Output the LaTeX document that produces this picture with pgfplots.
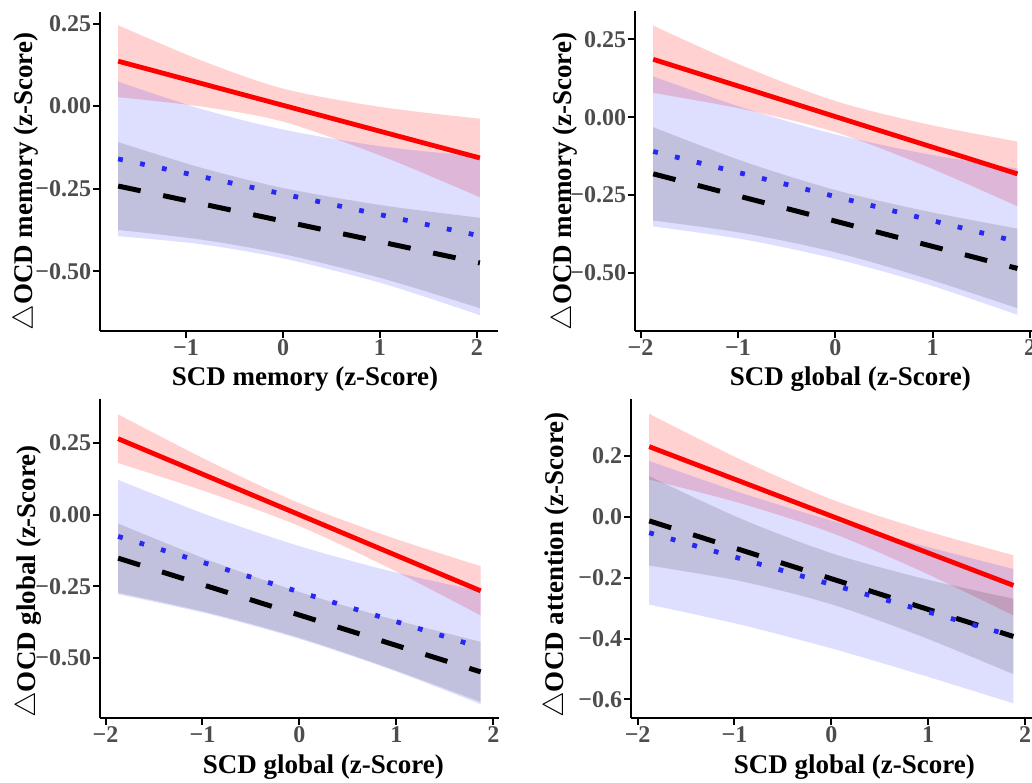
\documentclass[border=0pt]{standalone}
\usepackage{fontspec}
\setmainfont{Liberation Serif}
\usepackage{pgfplots}
\pgfplotsset{compat=1.18}
\usepgfplotslibrary{fillbetween}

\definecolor{cred}{RGB}{255,0,0}
\definecolor{cblue}{RGB}{40,40,245}
\definecolor{tickgray}{RGB}{77,77,77}

\pgfplotsset{
  panel/.style={
    scale only axis, anchor=south west,
    axis x line*=bottom, axis y line*=left,
    axis line style={line width=1pt,-},
    major tick style={line width=1pt, black},
    tick align=outside, major tick length=3.3pt,
    ticklabel style={font=\fontsize{12}{14}\selectfont\bfseries, text=tickgray},
    xticklabel style={inner sep=1pt},
    yticklabel style={inner sep=1pt},
    label style={font=\fontsize{13.5}{16}\selectfont\bfseries},
  },
  xlab/.style={xlabel style={at={([xshift=#1,yshift=-27.5pt]axis description cs:0.5,0)}, anchor=base}},
  ylab/.style={ylabel style={at={([xshift=#1]axis description cs:0,0)}, anchor=base west, inner sep=0pt}},
  edge/.style={draw=none, smooth, name path=#1},
  redband/.style={draw=none, fill=cred, fill opacity=0.18},
  blueband/.style={draw=none, fill=blue, fill opacity=0.13},
  darkband/.style={draw=none, fill=black, fill opacity=0.13},
  redline/.style={color=cred, line width=2.4pt, solid},
  blueline/.style={color=cblue, line width=2.4pt, dash pattern=on 2.4pt off 8.8pt},
  blackline/.style={color=black, line width=2.5pt, dash pattern=on 11.5pt off 11.5pt},
}

\begin{document}
\begin{tikzpicture}

% top left
\begin{axis}[panel, at={(50pt,225.5pt)}, width=199pt, height=159.5pt,
  xmin=-1.887, xmax=2.217, ymin=-0.681, ymax=0.285,
  xtick={-1,0,1,2}, xticklabels={−1,0,1,2},
  ytick={-0.5,-0.25,0,0.25}, yticklabels={−0.50,−0.25,0.00,0.25},
  xlab=3pt, ylab=-33.5pt,
  xlabel={SCD memory (z-Score)}, ylabel={$\triangle$OCD memory (z-Score)}]
\addplot[edge=ru] coordinates {(-1.70,0.245)(-0.85,0.139)(0,0.053)(1.015,-0.003)(2.03,-0.038)};
\addplot[edge=rl] coordinates {(-1.70,0.027)(-0.85,-0.001)(0,-0.047)(1.015,-0.151)(2.03,-0.276)};
\addplot[edge=bu] coordinates {(-1.70,0.074)(-0.85,-0.008)(0,-0.071)(1.015,-0.122)(2.03,-0.153)};
\addplot[edge=bl] coordinates {(-1.70,-0.394)(-0.85,-0.418)(0,-0.461)(1.015,-0.536)(2.03,-0.633)};
\addplot[edge=ku] coordinates {(-1.70,-0.109)(-0.85,-0.186)(0,-0.248)(1.015,-0.300)(2.03,-0.338)};
\addplot[edge=kl] coordinates {(-1.70,-0.375)(-0.85,-0.404)(0,-0.448)(1.015,-0.521)(2.03,-0.612)};
\addplot[redband] fill between[of=ru and rl];
\addplot[blueband] fill between[of=bu and bl];
\addplot[darkband] fill between[of=ku and kl];
\addplot[blackline] coordinates {(-1.70,-0.242)(2.03,-0.475)};
\addplot[blueline] coordinates {(-1.70,-0.160)(2.03,-0.393)};
\addplot[redline] coordinates {(-1.70,0.136)(2.03,-0.157)};
\end{axis}

% top right
\begin{axis}[panel, at={(317.5pt,225.5pt)}, width=200.3pt, height=159.8pt,
  xmin=-2.057, xmax=2.057, ymin=-0.687, ymax=0.34,
  xtick={-2,-1,0,1,2}, xticklabels={−2,−1,0,1,2},
  ytick={-0.5,-0.25,0,0.25}, yticklabels={−0.50,−0.25,0.00,0.25},
  xlab=7.5pt, ylab=-32pt,
  xlabel={SCD global (z-Score)}, ylabel={$\triangle$OCD memory (z-Score)}]
\addplot[edge=ru] coordinates {(-1.87,0.294)(-0.935,0.163)(0,0.052)(0.935,-0.022)(1.87,-0.078)};
\addplot[edge=rl] coordinates {(-1.87,0.078)(-0.935,0.025)(0,-0.048)(0.935,-0.158)(1.87,-0.286)};
\addplot[edge=bu] coordinates {(-1.87,0.131)(-0.935,0.029)(0,-0.055)(0.935,-0.118)(1.87,-0.165)};
\addplot[edge=bl] coordinates {(-1.87,-0.351)(-0.935,-0.393)(0,-0.455)(0.935,-0.536)(1.87,-0.635)};
\addplot[edge=ku] coordinates {(-1.87,-0.032)(-0.935,-0.143)(0,-0.234)(0.935,-0.302)(1.87,-0.358)};
\addplot[edge=kl] coordinates {(-1.87,-0.332)(-0.935,-0.373)(0,-0.434)(0.935,-0.518)(1.87,-0.614)};
\addplot[redband] fill between[of=ru and rl];
\addplot[blueband] fill between[of=bu and bl];
\addplot[darkband] fill between[of=ku and kl];
\addplot[blackline] coordinates {(-1.87,-0.182)(1.87,-0.486)};
\addplot[blueline] coordinates {(-1.87,-0.110)(1.87,-0.400)};
\addplot[redline] coordinates {(-1.87,0.186)(1.87,-0.182)};
\end{axis}

% bottom left
\begin{axis}[panel, at={(50pt,32pt)}, width=199.4pt, height=159.4pt,
  xmin=-2.057, xmax=2.057, ymin=-0.71, ymax=0.403,
  xtick={-2,-1,0,1,2}, xticklabels={−2,−1,0,1,2},
  ytick={-0.5,-0.25,0,0.25}, yticklabels={−0.50,−0.25,0.00,0.25},
  xlab=12pt, ylab=-32.5pt,
  xlabel={SCD global (z-Score)}, ylabel={$\triangle$OCD global (z-Score)}]
\addplot[edge=ru] coordinates {(-1.87,0.350)(-0.935,0.187)(0,0.040)(0.935,-0.078)(1.87,-0.180)};
\addplot[edge=rl] coordinates {(-1.87,0.180)(-0.935,0.077)(0,-0.040)(0.935,-0.188)(1.87,-0.352)};
\addplot[edge=bu] coordinates {(-1.87,0.121)(-0.935,-0.003)(0,-0.110)(0.935,-0.197)(1.87,-0.268)};
\addplot[edge=bl] coordinates {(-1.87,-0.278)(-0.935,-0.347)(0,-0.434)(0.935,-0.540)(1.87,-0.662)};
\addplot[edge=ku] coordinates {(-1.87,-0.031)(-0.935,-0.159)(0,-0.270)(0.935,-0.363)(1.87,-0.444)};
\addplot[edge=kl] coordinates {(-1.87,-0.273)(-0.935,-0.343)(0,-0.430)(0.935,-0.537)(1.87,-0.654)};
\addplot[redband] fill between[of=ru and rl];
\addplot[blueband] fill between[of=bu and bl];
\addplot[darkband] fill between[of=ku and kl];
\addplot[blackline] coordinates {(-1.87,-0.152)(1.87,-0.549)};
\addplot[blueline] coordinates {(-1.87,-0.076)(1.87,-0.464)};
\addplot[redline] coordinates {(-1.87,0.265)(1.87,-0.266)};
\end{axis}

% bottom right
\begin{axis}[panel, at={(315.5pt,32pt)}, width=200.3pt, height=159.4pt,
  xmin=-2.068, xmax=2.068, ymin=-0.661, ymax=0.387,
  xtick={-2,-1,0,1,2}, xticklabels={−2,−1,0,1,2},
  ytick={-0.6,-0.4,-0.2,0,0.2}, yticklabels={−0.6,−0.4,−0.2,0.0,0.2},
  xlab=11.5pt, ylab=-34pt,
  xlabel={SCD global (z-Score)}, ylabel={$\triangle$OCD attention (z-Score)}]
\addplot[edge=ru] coordinates {(-1.88,0.339)(-0.94,0.189)(0,0.058)(0.94,-0.042)(1.88,-0.126)};
\addplot[edge=rl] coordinates {(-1.88,0.123)(-0.94,0.045)(0,-0.052)(0.94,-0.180)(1.88,-0.324)};
\addplot[edge=bu] coordinates {(-1.88,0.184)(-0.94,0.080)(0,-0.012)(0.94,-0.094)(1.88,-0.171)};
\addplot[edge=bl] coordinates {(-1.88,-0.288)(-0.94,-0.354)(0,-0.432)(0.94,-0.520)(1.88,-0.613)};
\addplot[edge=ku] coordinates {(-1.88,0.134)(-0.94,-0.005)(0,-0.119)(0.94,-0.202)(1.88,-0.269)};
\addplot[edge=kl] coordinates {(-1.88,-0.160)(-0.94,-0.211)(0,-0.287)(0.94,-0.394)(1.88,-0.517)};
\addplot[redband] fill between[of=ru and rl];
\addplot[blueband] fill between[of=bu and bl];
\addplot[darkband] fill between[of=ku and kl];
\addplot[blackline] coordinates {(-1.88,-0.013)(1.88,-0.393)};
\addplot[blueline] coordinates {(-1.88,-0.052)(1.88,-0.392)};
\addplot[redline] coordinates {(-1.88,0.231)(1.88,-0.225)};
\end{axis}

\pgfresetboundingbox
\useasboundingbox (0pt,0pt) rectangle (516pt,391pt);
\end{tikzpicture}
\end{document}
